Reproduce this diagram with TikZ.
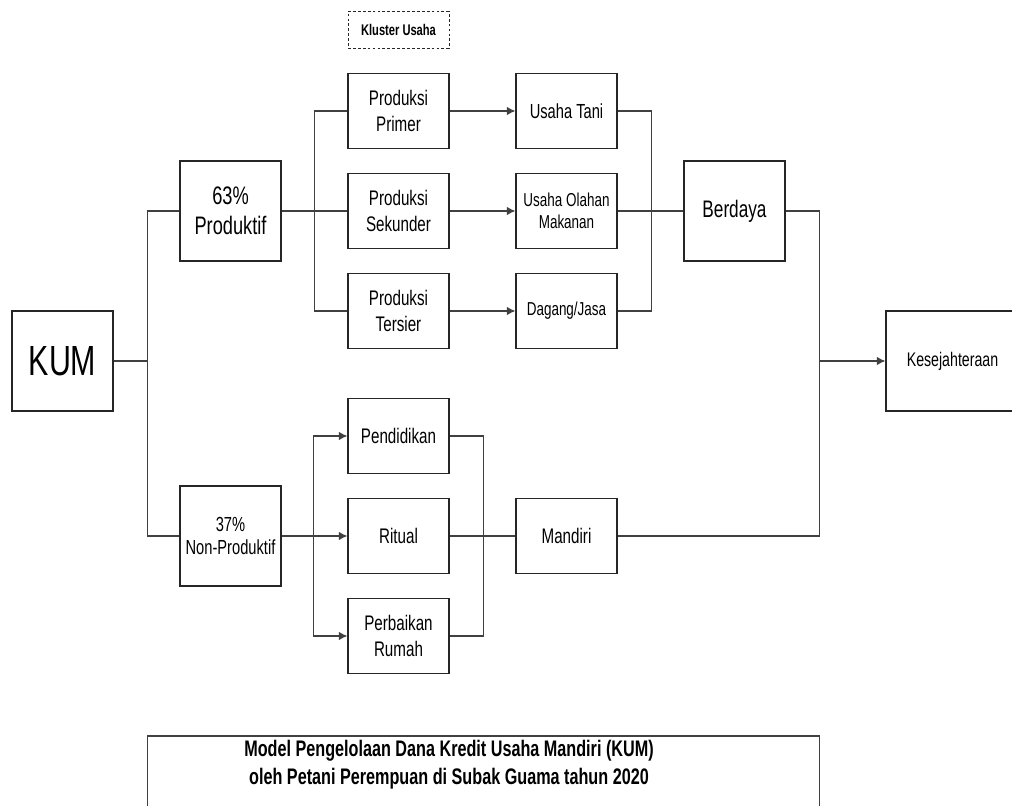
\documentclass[tikz,border=0pt]{standalone}
\usepackage{fontspec}
\setmainfont{Liberation Sans}[FakeStretch=0.72]
\usepackage{tikz}
\usetikzlibrary{arrows.meta, positioning}

\begin{document}
\begin{tikzpicture}[
            on grid,
            node distance = 2.5cm and 4.2cm,
            line width = 0.85pt
        ]

        \tikzstyle{box}=[
            draw=black!85,
            shape=rectangle,
            align=center,
            inner sep=0pt,
            minimum width=2.525cm,
            minimum height=2.5cm
        ]
        \tikzstyle{smallbox}=[box, minimum height=1.875cm]
        \tikzstyle{link}=[draw=black!75]
        \tikzstyle{arr}=[link, -{Latex[length=6pt,width=6pt]}]

        \useasboundingbox[fill=white] (-1.5625,-11.125) rectangle (23.7375,9.025);

		\node[box, font=\fontsize{30}{36}\selectfont] (kum) at (0,0) {KUM};
		\node[box, font=\fontsize{18}{21}\selectfont] (prod) [above right=3.75cm and 4.2cm of kum] {63\%\\Produktif};
		\node[box, font=\fontsize{14.5}{17}\selectfont] (nonprod) [below right=4.375cm and 4.2cm of kum] {37\%\\Non-Produktif};
		\node[smallbox, font=\fontsize{15}{18}\selectfont] (sek) [right=of prod] {Produksi\\Sekunder};
		\node[smallbox, font=\fontsize{15}{18}\selectfont] (prim) [above=of sek] {Produksi\\Primer};
		\node[smallbox, font=\fontsize{15}{18}\selectfont] (ters) [below=of sek] {Produksi\\Tersier};
		\node[box, dashed, dash pattern=on 2pt off 1.5pt, line width=0.6pt, minimum height=0.925cm, font=\bfseries\fontsize{11}{13}\selectfont] (klus) [above=2.025cm of prim] {Kluster Usaha};
		\node[smallbox, font=\fontsize{14.5}{17}\selectfont] (tani) [right=of prim] {Usaha Tani};
		\node[smallbox, font=\fontsize{13.3}{16}\selectfont] (olah) [right=of sek] {Usaha Olahan\\Makanan};
		\node[smallbox, font=\fontsize{13.3}{16}\selectfont] (dag) [right=of ters] {Dagang/Jasa};
		\node[box, font=\fontsize{17}{20}\selectfont] (ber) [right=of olah] {Berdaya};
		\node[box, minimum width=3.325cm, font=\fontsize{14}{17}\selectfont] (kes) [below right=3.75cm and 5.45cm of ber] {Kesejahteraan};
		\node[smallbox, font=\fontsize{15}{18}\selectfont] (rit) [right=of nonprod] {Ritual};
		\node[smallbox, font=\fontsize{15}{18}\selectfont] (pend) [above=of rit] {Pendidikan};
		\node[smallbox, font=\fontsize{15}{18}\selectfont] (rum) [below=of rit] {Perbaikan\\Rumah};
		\node[smallbox, font=\fontsize{15}{18}\selectfont] (man) [right=of rit] {Mandiri};

        % KUM split
        \coordinate (ksplit) at ([xshift=0.85cm]kum.east);
        \draw[link] (kum.east) -- (ksplit) |- (prod.west);
        \draw[link] (ksplit) |- (nonprod.west);

        % produktif
        \draw[link] (prod.east) -- (sek.west);
        \draw[link] (prim.west) -- ++(-0.825cm,0) |- (ters.west);
        \draw[arr] (prim.east) -- (tani.west);
        \draw[arr] (sek.east) -- (olah.west);
        \draw[arr] (ters.east) -- (dag.west);
        \draw[link] (tani.east) -- ++(0.85cm,0) |- (dag.east);
        \draw[link] (olah.east) -- (ber.west);

        % non-produktif
        \coordinate (nsplit) at ([xshift=-0.85cm]rit.west);
        \draw[arr] (nonprod.east) -- (rit.west);
        \draw[arr] (nsplit) |- (pend.west);
        \draw[arr] (nsplit) |- (rum.west);
        \draw[link] (pend.east) -- ++(0.85cm,0) |- (rum.east);
        \draw[link] (rit.east) -- (man.west);

        % join
        \coordinate (join) at ([xshift=0.85cm]ber.east |- kes.west);
        \draw[link] (ber.east) -| (join);
        \draw[link] (man.east) -| (join);
        \draw[arr] (join) -- (kes.west);

        % title
        \draw[link] (ksplit |- 0,-9.375) rectangle (join |- 0,-11.725);
		\node[align=center, font=\bfseries\fontsize{16}{20}\selectfont] (title) at (9.6625,-10.1) {Model Pengelolaan Dana Kredit Usaha Mandiri (KUM)\\oleh Petani Perempuan di Subak Guama tahun 2020};
    \end{tikzpicture}
\end{document}
